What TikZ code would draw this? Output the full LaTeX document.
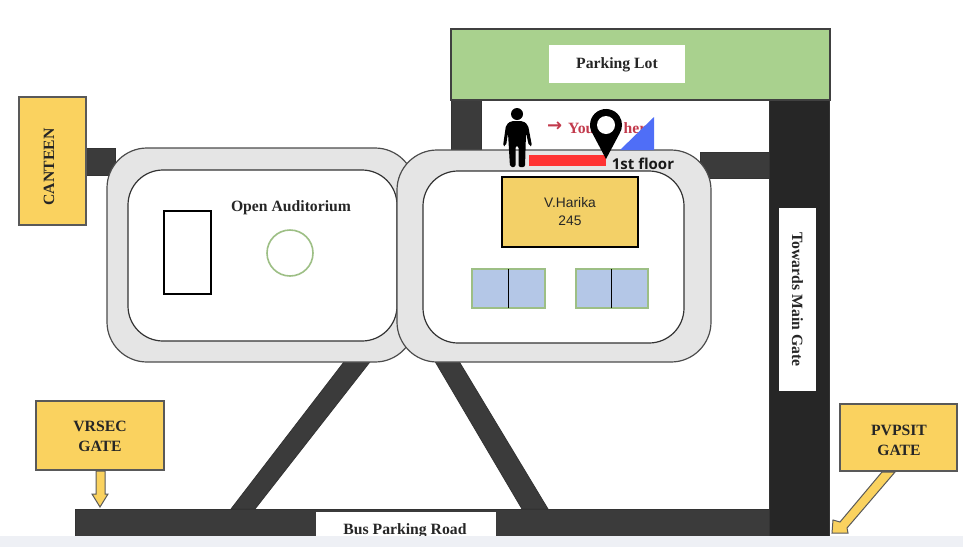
\documentclass[tikz,border=0pt]{standalone}
\usepackage{fontspec}
\setmainfont{Liberation Serif}
\newfontfamily\harikafont{Liberation Sans}
\newfontfamily\floorfont{Open Sans}
\newfontfamily\arrowfont{DejaVu Sans}
\usetikzlibrary{positioning}
\definecolor{roaddark}{HTML}{3B3B3B}
\definecolor{roadblack}{HTML}{262626}
\definecolor{lotgreen}{HTML}{A9D18E}
\definecolor{gateyellow}{HTML}{FAD25F}
\definecolor{cardyellow}{HTML}{F3D067}
\definecolor{wallgray}{HTML}{E5E5E5}
\definecolor{roomblue}{HTML}{B4C7E7}
\definecolor{bandgray}{HTML}{EEF0F5}
\definecolor{sage}{HTML}{9DBF85}
\definecolor{herered}{HTML}{C23A4C}
\definecolor{barred}{HTML}{FF3333}
\definecolor{markblue}{HTML}{4F6EF7}
\tikzset{
    maplabel/.style={font=\fontsize{15.7}{20}\selectfont\bfseries, text=black!85, align=center},
    gatebox/.style={draw=black!65, fill=gateyellow, line width=1.2pt},
    road/.style={draw=black!80, fill=roaddark, line width=0.8pt},
    wall/.style={draw=black!70, fill=wallgray, line width=1.2pt},
    room/.style={draw=black!80, fill=white, line width=1.2pt},
    bluehall/.style={draw=sage, fill=roomblue, line width=1.2pt}
}
\begin{document}
\begin{tikzpicture}[x=1pt, y=-1pt]
    \useasboundingbox (0,0) rectangle (963,547);
    %%% Roads
    \draw[road, fill=roadblack] (769,100) rectangle (829,540);
    \draw[road] (451,100) rectangle (481,155);
    \draw[road] (700,152) rectangle (769,178);
    \draw[road] (85,148) rectangle (115,175);
    \draw[road] (75,509) rectangle (769,540);
    \draw[road] (347,358) -- (373,358) -- (255,509) -- (231,509) -- cycle;
    \draw[road] (433,358) -- (457,358) -- (548,509) -- (522,509) -- cycle;
    %
    %%% Parking lot
    \draw[draw=black!75, fill=lotgreen, line width=1.2pt] (451,29) rectangle (830,100);
    \fill[white] (549,45) rectangle (685,83);
    \node[maplabel] (parking) at (617,64.5) {Parking Lot};
    %
    %%% Buildings
    \draw[wall] (107,188) arc (180:270:40) -- (375,148) arc (-90:0:40) -- (415,322) arc (0:90:40) -- (147,362) arc (90:180:40) -- cycle;
    \draw[room] (128,205) arc (180:270:35) -- (362,170) arc (-90:0:35) -- (397,306) arc (0:90:35) -- (163,341) arc (90:180:35) -- cycle;
    \draw[wall] (397,190) arc (180:270:40) -- (671,150) arc (-90:0:40) -- (711,322) arc (0:90:40) -- (437,362) arc (90:180:40) -- cycle;
    \draw[room] (423,206) arc (180:270:35) -- (649,171) arc (-90:0:35) -- (684,308) arc (0:90:35) -- (458,343) arc (90:180:35) -- cycle;
    %
    \draw[black, line width=1.2pt, fill=white] (164,211) rectangle (211,294);
    \draw[sage, line width=1.6pt] (290,253) circle (23);
    \node[maplabel] (auditorium) at (291,208) {Open Auditorium};
    \draw[bluehall] (472,269) rectangle (545,308);
    \draw[black, line width=1pt] (508,269) -- (508,308);
    \draw[bluehall] (576,269) rectangle (648,308);
    \draw[black, line width=1pt] (611,269) -- (611,308);
    %
    %%% You are here
    \node[font=\fontsize{18}{20}\selectfont\arrowfont\bfseries, text=herered, anchor=west, inner sep=0pt] (herearrow) at (547,127) {→};
    \node[font=\fontsize{15.7}{20}\selectfont\bfseries, text=herered, anchor=west, inner sep=0pt] (here) at (568,128) {You are here};
    \fill[markblue] (620,150) -- (654,150) -- (654,117) -- cycle;
    \fill[barred] (529,155) rectangle (606,166);
    % person
    \fill[black] (517,114) circle (6);
    \fill[black, rounded corners=2pt] (503,146) -- (506,125) -- (511,121) -- (523,121) -- (528,125) -- (532,146) -- (529,146) -- (526,133) -- (525,167) -- (518.5,167) -- (518.5,146) -- (515.5,146) -- (515.5,167) -- (510,167) -- (508,133) -- (506,146) -- cycle;
    % pin
    \fill[black] (606,159) -- (592.6,133.7) arc (147:393:16) -- cycle;
    \fill[white] (606,125) circle (9);
    \node[font=\fontsize{15}{18}\selectfont\floorfont\bfseries, text=black!90] (floor) at (643,164) {1st floor};
    % card
    \node[draw=black, fill=cardyellow, line width=1.4pt, minimum width=136pt, minimum height=70pt, inner sep=0pt, align=center, font=\fontsize{13.8}{18}\selectfont\harikafont, text=black!85] (harika) at (570,212) {V.Harika\\245};
    %
    %%% Gates
    \node[gatebox, minimum width=67pt, minimum height=128pt, inner sep=0pt] (canteen) at (52.5,161) {};
    \node[maplabel, rotate=90] (canteentext) at (49,167) {CANTEEN};
    \node[gatebox, minimum width=128pt, minimum height=69pt, inner sep=0pt] (vrsec) at (100,435.5) {};
    \node[maplabel] (vrsectext) at (100,436.5) {VRSEC\\GATE};
    \node[gatebox, minimum width=117pt, minimum height=67pt, inner sep=0pt] (pvpsit) at (898.5,437.5) {};
    \node[maplabel] (pvpsittext) at (899,440.5) {PVPSIT\\GATE};
    \draw[draw=black!65, fill=gateyellow, line width=1pt] (96,471) -- (105,471) -- (105,494) -- (108,494) -- (100,507) -- (92,494) -- (96,494) -- cycle;
    \draw[draw=black!65, fill=gateyellow, line width=1pt] (882,472) -- (895,472) -- (847,528) -- (848,533) -- (832,533) -- (833,520) -- (840,522) -- cycle;
    %
    %%% Road signs
    \fill[white] (779,208) rectangle (816,391);
    \node[maplabel, rotate=-90] (maingate) at (797.5,299.5) {Towards Main Gate};
    \fill[white] (316,512) rectangle (496,540);
    \node[maplabel] (busroad) at (405,531) {Bus Parking Road};
    %
    \fill[bandgray] (0,536) rectangle (963,547);
\end{tikzpicture}
\end{document}
